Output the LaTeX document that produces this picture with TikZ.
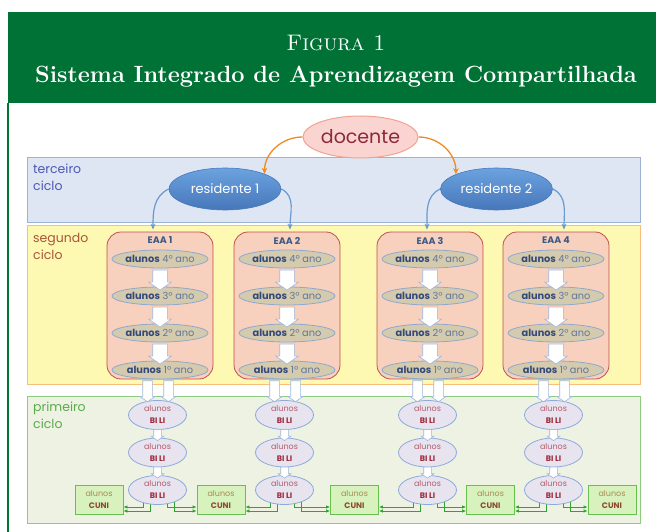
\documentclass[tikz,border=0pt]{standalone}
\usepackage{fontspec}
\newfontfamily\dg{Poppins}
\usetikzlibrary{shapes.geometric,shapes.arrows,calc,arrows.meta}
\definecolor{hdr}{HTML}{007236}
\definecolor{tF}{HTML}{DDE6F2}
\definecolor{tD}{HTML}{9DB3D4}
\definecolor{tT}{HTML}{4F58B5}
\definecolor{sF}{HTML}{FEF9B2}
\definecolor{sD}{HTML}{F6C07C}
\definecolor{sT}{HTML}{A8553A}
\definecolor{pF}{HTML}{EEF2E2}
\definecolor{pD}{HTML}{8ECB7F}
\definecolor{pT}{HTML}{5BAA4C}
\definecolor{dF}{HTML}{FAD4D0}
\definecolor{dD}{HTML}{F2A38E}
\definecolor{dT}{HTML}{8B2A3A}
\definecolor{rTop}{HTML}{6CA2E0}
\definecolor{rBot}{HTML}{4677BA}
\definecolor{oA}{HTML}{F08A24}
\definecolor{bA}{HTML}{6B98CF}
\definecolor{eF}{HTML}{F8D0BE}
\definecolor{eD}{HTML}{C0504D}
\definecolor{eT}{HTML}{3D5A85}
\definecolor{yF}{HTML}{D4CAAE}
\definecolor{yD}{HTML}{8FA9CE}
\definecolor{yB}{HTML}{34497A}
\definecolor{yN}{HTML}{62759A}
\definecolor{arD}{HTML}{9CB6DA}
\definecolor{bF}{HTML}{E7E4F0}
\definecolor{bD}{HTML}{8EAADB}
\definecolor{bN}{HTML}{B25B6C}
\definecolor{bB}{HTML}{9E2A3C}
\definecolor{cF}{HTML}{D8F2BE}
\definecolor{cD}{HTML}{68C04E}
\definecolor{cN}{HTML}{A58A55}
\definecolor{cB}{HTML}{8E4A2C}
\definecolor{gA}{HTML}{2FA52F}
\pgfdeclarelayer{back}
\pgfdeclarelayer{mid}
\pgfsetlayers{back,mid,main}
\begin{document}
\begin{tikzpicture}[x=1pt,y=-1pt,
  lvl/.style={draw, line width=1pt, inner sep=0pt},
  lvtext/.style={font=\dg\fontsize{12.5}{17}\selectfont, align=left, anchor=north west, inner sep=0pt},
  lab/.style={inner sep=0pt, align=center},
  eaabox/.style={draw=eD, fill=eF, line width=0.8pt, rounded corners=14pt, minimum width=106pt, minimum height=147pt, inner sep=0pt},
  eaalab/.style={inner sep=0pt, font=\dg\bfseries\fontsize{9.5}{10}\selectfont, text=eT},
  yr/.style={ellipse, draw=yD, fill=yF, line width=0.8pt, minimum width=96pt, minimum height=18pt, inner sep=0pt},
  yrlab/.style={lab, font=\dg\fontsize{9.8}{11}\selectfont, text=yN},
  bl/.style={ellipse, draw=bD, fill=bF, line width=0.8pt, minimum width=58pt, minimum height=29pt, inner sep=0pt},
  bllab/.style={lab, font=\dg\fontsize{8}{12}\selectfont, text=bN},
  cuni/.style={draw=cD, fill=cF, line width=0.8pt, minimum width=48pt, minimum height=29pt, inner sep=0pt, align=center, font=\dg\fontsize{8}{12}\selectfont, text=cB},
  barrow/.style={single arrow, draw=arD, fill=white, line width=0.6pt, rotate=-90, inner xsep=0pt, inner ysep=7pt, single arrow head extend=4pt, minimum height=20pt, single arrow tip angle=110, single arrow head indent=0pt},
  sarrow/.style={barrow, inner ysep=4.5pt, single arrow head extend=3pt, minimum height=21pt},
  tarrow/.style={barrow, inner ysep=3.5pt, single arrow head extend=2.5pt, minimum height=11pt},
  oarr/.style={draw=oA, line width=1.3pt, -{Stealth[length=6pt,width=5.5pt]}},
  barr/.style={draw=bA, line width=1.2pt, -{Stealth[length=6pt,width=5pt]}},
  garr/.style={draw=gA, line width=1pt, -{Latex[length=4pt,width=3.5pt]}}
]
\useasboundingbox (0,0) rectangle (656,532);
\begin{pgfonlayer}{back}
\fill[white] (0,0) rectangle (656,532);
\end{pgfonlayer}
% header
\fill[hdr] (8,12) rectangle (656,103);
\draw[hdr, line width=1.2pt] (8,103) -- (8,532);
\node[text=white, inner sep=0pt, font=\fontsize{22.5}{26}\selectfont] (fig) at (336,43) {\textsc{Figura 1}};
\node[text=white, inner sep=0pt, font=\fontsize{23.5}{28}\selectfont\bfseries] (title) at (336,77) {Sistema Integrado de Aprendizagem Compartilhada};

% level boxes
\begin{pgfonlayer}{back}
\node[lvl, draw=tD, fill=tF, minimum width=613pt, minimum height=64pt] (lv3) at (334,190) {};
\node[lvl, draw=sD, fill=sF, minimum width=613pt, minimum height=158.5pt] (lv2) at (334,304.75) {};
\node[lvl, draw=pD, fill=pF, minimum width=613pt, minimum height=127pt] (lv1) at (334,459.5) {};
\end{pgfonlayer}
\node[lvtext, text=tT] (lt3) at (33,164) {terceiro\\ciclo};
\node[lvtext, text=sT] (lt2) at (33,233) {segundo\\ciclo};
\node[lvtext, text=pT] (lt1) at (33,402) {primeiro\\ciclo};

% docente and residentes
\node[ellipse, draw=dD, fill=dF, line width=1pt, minimum width=115pt, minimum height=42pt, inner sep=0pt,
  label={[lab, font=\dg\fontsize{19}{22}\selectfont, text=dT]center:docente}] (doc) at (360.5,137) {};
\node[ellipse, draw=rBot, top color=rTop, bottom color=rBot, line width=0.6pt, minimum width=112pt, minimum height=42pt, inner sep=0pt,
  label={[lab, font=\dg\fontsize{13}{15}\selectfont, text=white]center:residente 1}] (r1) at (225,189) {};
\node[ellipse, draw=rBot, top color=rTop, bottom color=rBot, line width=0.6pt, minimum width=112pt, minimum height=42pt, inner sep=0pt,
  label={[lab, font=\dg\fontsize{13}{15}\selectfont, text=white]center:residente 2}] (r2) at (496.5,189) {};

% EAA columns
\foreach \i/\c in {1/160,2/287,3/430,4/556}{
  \node[eaabox] (eaa\i) at (\c,305.5) {};
  \node[eaalab] (eaal\i) at (\c,240.5) {EAA \i};
  \foreach \k/\y in {4/259,3/296,2/333,1/370}{
    \node[yr, label={[yrlab]center:{\textcolor{yB}{\bfseries alunos} \k º ano}}] (a\i\k) at (\c,\y) {};
  }
  \node[barrow] (ba\i a) at ($(a\i4)!0.5!(a\i3)$) {};
  \node[barrow] (ba\i b) at ($(a\i3)!0.5!(a\i2)$) {};
  \node[barrow] (ba\i c) at ($(a\i2)!0.5!(a\i1)$) {};
  % BI LI column
  \node[bl, label={[bllab]center:{alunos\\\textcolor{bB}{\bfseries BI LI}}}] (bt\i) at (\c-2.5,415) {};
  \node[bl, label={[bllab]center:{alunos\\\textcolor{bB}{\bfseries BI LI}}}] (bm\i) at (\c-2.5,452.5) {};
  \node[bl, label={[bllab]center:{alunos\\\textcolor{bB}{\bfseries BI LI}}}] (bb\i) at (\c-2.5,490) {};
  \node[sarrow] (sl\i) at ($(bt\i.north)+(-10,-10.5)$) {};
  \node[sarrow] (sr\i) at ($(bt\i.north)+(11,-10.5)$) {};
  \node[tarrow] (ta\i) at ($(bt\i.south)!0.5!(bm\i.north)$) {};
  \node[tarrow] (tb\i) at ($(bm\i.south)!0.5!(bb\i.north)$) {};
}

% CUNI boxes
\foreach \j/\x in {1/99,2/221,3/354.5,4/490.5,5/612}{
  \node[cuni] (cu\j) at (\x,499.5) {\textcolor{cN}{alunos}\\{\bfseries CUNI}};
}

% connectors
\begin{pgfonlayer}{mid}
\draw[oarr] (doc.west) to[out=180,in=90] (r1.21);
\draw[oarr] (doc.east) to[out=0,in=90] (r2.160);
\draw[barr] (r1.west) to[out=205,in=90] ($(eaa1.north)+(-7,-2)$);
\draw[barr] (r1.east) to[out=-25,in=90] ($(eaa2.north)+(3,-2)$);
\draw[barr] (r2.west) to[out=205,in=90] ($(eaa3.north)+(-3,-2)$);
\draw[barr] (r2.east) to[out=-25,in=90] ($(eaa4.north)+(8,-2)$);
\foreach \i/\j in {1/2,2/3,3/4,4/5}{
  \draw[garr] ($(bb\i.center)+(-14.5,0)$) |- ([yshift=-7.5pt]cu\i.east);
  \draw[garr] ($(bb\i.center)+(-7.5,0)$) |- ([yshift=-11.5pt]cu\i.east);
  \draw[garr] ($(bb\i.center)+(9.5,0)$) |- ([yshift=-7.5pt]cu\j.west);
  \draw[garr] ($(bb\i.center)+(16.5,0)$) |- ([yshift=-11.5pt]cu\j.west);
}
\end{pgfonlayer}
\end{tikzpicture}
\end{document}
